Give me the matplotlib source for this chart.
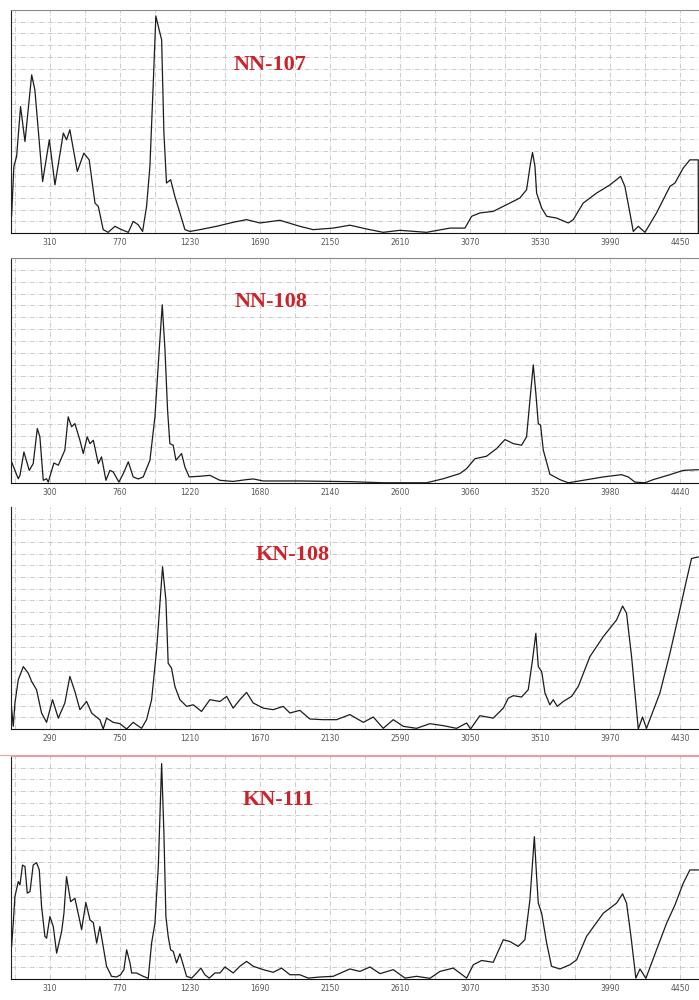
import matplotlib
matplotlib.use("Agg")
import matplotlib.pyplot as plt
from matplotlib.lines import Line2D
import numpy as np

# Raman spectra, wavenumber (cm-1) vs relative intensity (0-100)
nn107_x = [58, 73, 91, 117, 146, 190, 211, 262, 306, 343, 398, 419, 441, 490, 533, 568,
           606, 628, 660, 693, 737, 781, 825, 857, 890, 919, 945, 967, 989, 1006, 1028,
           1044, 1059, 1076, 1103, 1131, 1164, 1197, 1230, 1295, 1405, 1514, 1602, 1690,
           1821, 1952, 2040, 2171, 2281, 2391, 2500, 2610, 2785, 2938, 3037, 3081, 3136,
           3223, 3311, 3398, 3442, 3468, 3481, 3497, 3508, 3541, 3574, 3639, 3716, 3749,
           3814, 3902, 3990, 4033, 4060, 4088, 4121, 4143, 4176, 4220, 4296, 4384, 4417,
           4471, 4515, 4570, 4571]
nn107_y = [7.5, 29.9, 34.3, 56.7, 41.0, 70.9, 64.2, 23.1, 41.8, 21.6, 44.8, 41.8, 46.3,
           27.6, 35.8, 32.8, 13.4, 11.9, 1.5, 0.3, 3.0, 1.5, 0.3, 5.2, 3.7, 0.7, 11.9,
           29.9, 67.2, 97.3, 91.0, 86.6, 44.8, 22.4, 23.9, 16.4, 9.0, 1.5, 0.7, 1.5, 3.0,
           4.8, 6.0, 4.5, 5.7, 3.0, 1.5, 2.2, 3.5, 1.8, 0.3, 1.2, 0.3, 2.2, 2.2, 7.5, 9.0,
           9.7, 12.7, 15.7, 19.4, 31.3, 36.1, 29.9, 17.9, 11.2, 7.5, 6.7, 4.5, 6.0, 13.4,
           17.9, 21.6, 23.9, 25.4, 20.9, 9.0, 0.7, 3.0, 0.3, 9.0, 20.9, 22.4, 29.1, 32.8,
           32.8, 0.0]

nn108_x = [48, 70, 92, 103, 129, 164, 190, 217, 234, 256, 278, 289, 326, 355, 398, 420,
           442, 464, 497, 519, 545, 563, 585, 618, 639, 668, 694, 716, 753, 782, 815, 847,
           880, 913, 957, 990, 1018, 1038, 1056, 1073, 1088, 1110, 1128, 1165, 1187, 1215,
           1285, 1351, 1417, 1504, 1592, 1636, 1702, 1942, 2271, 2490, 2775, 2885, 2994,
           3038, 3093, 3169, 3235, 3290, 3345, 3399, 3432, 3454, 3476, 3493, 3509, 3524,
           3542, 3585, 3651, 3706, 3804, 3936, 4056, 4100, 4144, 4210, 4264, 4374, 4461,
           4549, 4560]
nn108_y = [9.4, 5.6, 1.9, 3.4, 13.8, 5.6, 8.6, 24.2, 20.5, 1.2, 1.9, 0.4, 8.9, 7.9, 14.6,
           29.4, 25.0, 26.4, 19.0, 13.1, 20.5, 17.5, 19.0, 8.6, 11.6, 1.2, 5.6, 4.9, 0.4,
           4.2, 9.4, 2.7, 1.8, 2.7, 10.1, 29.4, 59.1, 79.2, 59.1, 32.4, 17.5, 16.8, 10.1,
           13.1, 7.1, 2.7, 3.0, 3.4, 1.2, 0.7, 1.5, 1.8, 0.9, 0.9, 0.6, 0.1, 0.1, 1.9, 4.2,
           6.4, 10.8, 11.9, 15.3, 19.3, 17.5, 16.8, 20.5, 36.8, 52.5, 39.8, 26.4, 25.7,
           14.6, 3.9, 1.5, 0.1, 1.2, 2.7, 3.7, 2.7, 0.4, 0.1, 1.5, 3.7, 5.6, 5.9, 5.9]

kn108_x = [38, 49, 60, 82, 115, 148, 170, 202, 235, 268, 307, 345, 388, 421, 454, 487,
           531, 564, 596, 618, 640, 662, 706, 750, 794, 837, 859, 892, 925, 958, 991, 1030,
           1052, 1067, 1089, 1111, 1144, 1188, 1232, 1286, 1341, 1407, 1451, 1494, 1538,
           1582, 1626, 1692, 1757, 1823, 1867, 1932, 1998, 2086, 2173, 2261, 2349, 2415,
           2480, 2546, 2612, 2699, 2787, 2875, 2962, 3028, 3054, 3115, 3203, 3269, 3302,
           3335, 3389, 3433, 3461, 3483, 3499, 3521, 3543, 3575, 3597, 3624, 3663, 3718,
           3762, 3838, 3926, 4013, 4053, 4079, 4112, 4156, 4184, 4210, 4298, 4364, 4419,
           4473, 4506, 4550]
kn108_y = [9.4, 1.2, 11.7, 22.2, 28.1, 25.1, 21.4, 17.7, 7.2, 3.0, 13.2, 4.9, 11.7, 23.7,
           16.9, 8.7, 12.4, 7.2, 5.4, 4.2, 0.0, 4.9, 3.0, 2.4, 0.0, 3.0, 1.9, 0.3, 4.2,
           13.2, 35.6, 73.1, 58.1, 29.6, 27.4, 19.2, 13.2, 10.2, 10.9, 7.9, 13.2, 12.4,
           14.7, 9.4, 13.2, 16.5, 11.7, 9.4, 8.7, 10.2, 7.2, 8.4, 4.5, 4.2, 4.2, 6.5, 3.0,
           5.4, 0.3, 4.2, 1.2, 0.3, 2.4, 1.5, 0.3, 2.7, 0.0, 6.0, 4.9, 9.4, 13.9, 15.0,
           14.4, 17.7, 31.1, 43.1, 28.1, 25.9, 16.2, 10.9, 13.2, 10.2, 12.4, 14.7, 19.2,
           32.6, 41.6, 49.1, 55.4, 52.1, 32.6, 0.0, 5.4, 0.3, 16.2, 34.1, 50.6, 67.1, 76.8,
           77.5]

kn111_x = [58, 69, 80, 102, 113, 130, 146, 161, 179, 200, 222, 240, 255, 277, 288, 310,
           332, 354, 387, 402, 419, 446, 474, 507, 518, 546, 573, 595, 617, 638, 660, 682,
           715, 748, 774, 796, 814, 836, 847, 879, 923, 956, 978, 1000, 1022, 1044, 1059,
           1072, 1087, 1103, 1120, 1142, 1164, 1182, 1208, 1241, 1274, 1302, 1328, 1357,
           1394, 1427, 1460, 1514, 1558, 1602, 1646, 1712, 1777, 1832, 1887, 1952, 2007,
           2084, 2171, 2281, 2347, 2413, 2479, 2566, 2643, 2719, 2807, 2873, 2960, 3048,
           3092, 3147, 3223, 3289, 3333, 3387, 3431, 3464, 3493, 3508, 3519, 3541, 3574,
           3606, 3661, 3727, 3771, 3836, 3946, 4033, 4073, 4099, 4128, 4160, 4187, 4226,
           4296, 4362, 4417, 4471, 4515, 4570]
kn111_y = [14.6, 25.0, 37.0, 43.7, 42.2, 51.1, 50.4, 38.5, 39.2, 51.1, 52.2, 48.9, 32.5,
           19.1, 18.3, 28.0, 23.5, 11.6, 21.3, 29.5, 45.9, 34.7, 36.2, 25.8, 22.1, 34.3,
           26.5, 25.3, 16.1, 23.5, 14.6, 5.7, 1.2, 0.9, 1.9, 4.2, 13.1, 7.2, 2.7, 2.7, 1.2,
           0.3, 16.1, 25.0, 50.4, 96.6, 65.3, 28.0, 19.1, 13.1, 12.4, 7.2, 11.3, 7.2, 1.2,
           0.4, 2.7, 4.9, 1.9, 0.4, 2.7, 2.7, 5.4, 2.7, 5.7, 7.9, 5.7, 4.2, 3.0, 4.9, 1.9,
           1.9, 0.4, 0.9, 1.2, 4.5, 3.4, 5.4, 2.4, 4.2, 0.4, 1.2, 0.3, 3.4, 4.9, 0.4, 6.4,
           8.3, 7.5, 17.6, 16.8, 14.6, 17.6, 35.5, 63.8, 45.9, 34.0, 29.5, 16.1, 5.7, 4.5,
           6.4, 8.6, 19.1, 29.5, 34.0, 38.2, 34.0, 19.1, 0.4, 4.5, 0.3, 13.1, 25.0, 33.2,
           42.9, 48.9, 48.9]

names = ["NN-107", "NN-108", "KN-108", "KN-111"]
tick_start = [310, 300, 290, 310]
spectra = [(nn107_x, nn107_y), (nn108_x, nn108_y), (kn108_x, kn108_y), (kn111_x, kn111_y)]

# panel boxes in figure fraction [left, bottom, width, height]
boxes = [[0.0157, 0.767, 0.9843, 0.223],
         [0.0157, 0.517, 0.9843, 0.225],
         [0.0157, 0.271, 0.9843, 0.222],
         [0.0157, 0.021, 0.9843, 0.223]]
label_pos = [(0.376, 0.731), (0.378, 0.784), (0.409, 0.761), (0.388, 0.780)]

fig = plt.figure(figsize=(6.99, 10), dpi=100)

for i in range(4):
    ax = fig.add_axes(boxes[i])
    x, y = spectra[i]
    ax.plot(x, y, color='#1c1c1c', lw=0.9)
    t0 = tick_start[i]
    ax.set_xlim(t0 - 256, t0 + 4265)
    ax.set_ylim(0, 100)

    major = np.arange(t0, t0 + 4200, 460)
    minor = np.arange(t0 - 230, t0 + 4300, 460)
    ax.set_xticks(major)
    ax.set_xticklabels([str(v) for v in major])
    ax.set_xticks(minor, minor=True)
    ax.set_yticks(np.linspace(0, 100, 20)[1:-1])
    ax.set_yticklabels([])
    ax.tick_params(axis='both', which='both', length=0)
    ax.tick_params(axis='x', labelsize=5.5, labelcolor='#555555', pad=3.5)
    ax.grid(True, which='both', color='#c4c4c4', lw=0.6, ls=(0, (6, 2, 1, 2)))

    ax.spines['right'].set_visible(False)
    ax.spines['bottom'].set_color('#111111')
    ax.spines['left'].set_color('#222222')
    ax.spines['top'].set_color('#8a8a8a')
    if i == 2:
        ax.spines['top'].set_visible(False)
    if i == 3:
        ax.spines['top'].set_color('#e3a0a0')

    lx, ly = label_pos[i]
    ax.text(lx, ly, names[i], transform=ax.transAxes, ha='center', va='baseline',
            fontsize=16, fontweight='bold', family='Liberation Serif', color='#cc2229')

# reddish separator above the last panel, full width
fig.add_artist(Line2D([0, 1], [0.245, 0.245], color='#e6a3a3', lw=0.8))

fig.savefig('out.png', dpi=100)
